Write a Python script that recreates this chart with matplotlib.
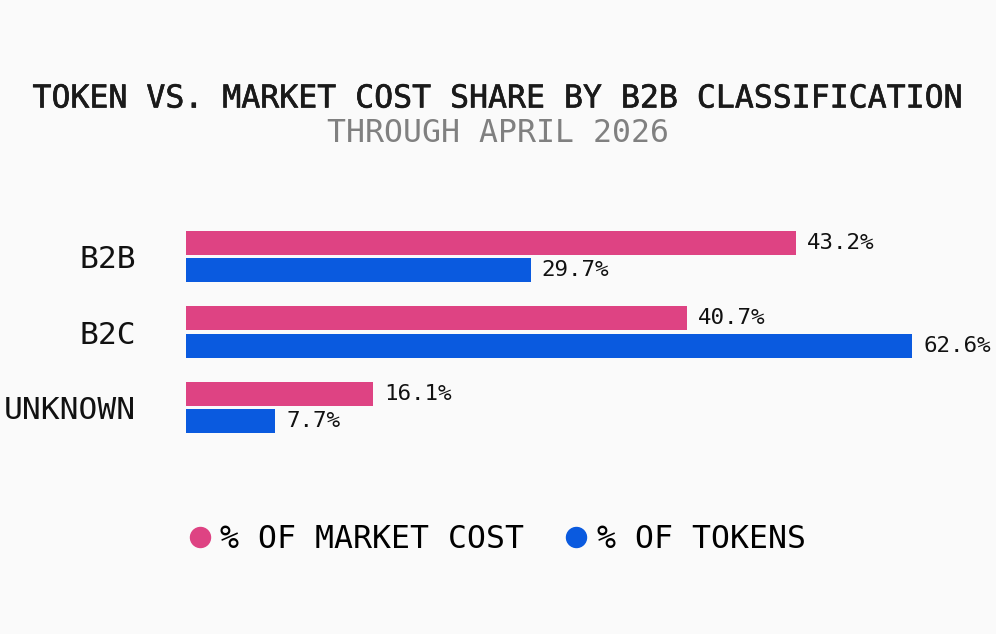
import matplotlib
matplotlib.use('Agg')
import matplotlib.pyplot as plt
import matplotlib.patheffects as pe
from matplotlib.lines import Line2D

# data
categories = ['B2B', 'B2C', 'UNKNOWN']
market_cost_bars = [52.6, 43.2, 16.1]      # bar lengths as drawn
market_cost_labels = [43.2, 40.7, 16.1]    # printed values
token_values = [29.7, 62.6, 7.7]
series_names = ['% OF MARKET COST', '% OF TOKENS']

PINK = '#DE4383'
BLUE = '#0A5ADF'
BG = '#FAFAFA'
FONT = 'DejaVu Sans Mono'

W, H = 996, 634
fig = plt.figure(figsize=(W / 100, H / 100), dpi=100, facecolor=BG)

# axes placed so group centres land where the reference has them
px_per_unit = 11.6
xmax = 64
left_px, group_px = 186, 75.5
top_px = 256.5 - group_px / 2
ax = fig.add_axes([left_px / W, 1 - (top_px + 3 * group_px) / H,
                   xmax * px_per_unit / W, 3 * group_px / H])
ax.set_facecolor(BG)

ypos = list(range(len(categories)))
off, h = 0.179, 0.318
ax.barh([y - off for y in ypos], market_cost_bars, height=h, color=PINK)
ax.barh([y + off for y in ypos], token_values, height=h, color=BLUE)

ax.set_xlim(0, xmax)
ax.set_ylim(2.5, -0.5)
ax.set_yticks(ypos)
ax.set_yticklabels(categories, family=FONT, fontsize=22.5, color='#111111')
ax.tick_params(axis='y', length=0, pad=36)
ax.set_xticks([])
for s in ax.spines.values():
    s.set_visible(False)

# value labels
for y, bar, lab in zip(ypos, market_cost_bars, market_cost_labels):
    ax.annotate(f'{lab:.1f}%', (bar, y - off), xytext=(8, 0), textcoords='offset points',
                va='center', ha='left', family=FONT, fontsize=16.2, color='#111111',
                annotation_clip=False)
for y, val in zip(ypos, token_values):
    ax.annotate(f'{val:.1f}%', (val, y + off), xytext=(8, 0), textcoords='offset points',
                va='center', ha='left', family=FONT, fontsize=16.2, color='#111111',
                annotation_clip=False)

# titles (normal weight with a thin stroke to get a medium look)
fig.text(0.5, 1 - 99 / H, 'TOKEN VS. MARKET COST SHARE BY B2B CLASSIFICATION',
         ha='center', va='center', family=FONT, fontsize=22.7, color='#1a1a1a',
         path_effects=[pe.withStroke(linewidth=0.45, foreground='#1a1a1a')])
fig.text(0.5, 1 - 133 / H, 'THROUGH APRIL 2026', ha='center', va='center',
         family=FONT, fontsize=22.7, color='#808080')

# legend
handles = [Line2D([], [], linestyle='none', marker='o', markersize=14.4,
                  markerfacecolor=c, markeredgecolor=c) for c in (PINK, BLUE)]
fig.legend(handles, series_names, loc='center', bbox_to_anchor=(497 / W, 1 - 540 / H),
           ncol=2, frameon=False, handlelength=0.7, handletextpad=0.3,
           columnspacing=1.3, prop={'family': FONT, 'size': 22.7})

fig.savefig('out.png', dpi=100, facecolor=BG)
